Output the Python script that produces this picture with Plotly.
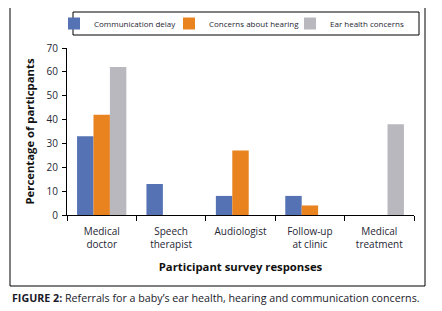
import plotly.graph_objects as go

categories = ["Medical<br>doctor", "Speech<br>therapist", "Audiologist", "Follow-up<br>at clinic", "Medical<br>treatment"]
series_names = ["Communication delay", "Concerns about hearing", "Ear health concerns"]
communication_delay = [33, 13, 8, 8, None]
concerns_hearing = [42, None, 27, 4, None]
ear_health = [62, None, None, None, 38]
colors = ["#5572B4", "#E8831F", "#B9B8BE"]
legend_widths = [70, 76, 78]

FONT = "Open Sans"
TXT = "#262633"

fig = go.Figure()
for name, vals, col, lw in zip(series_names, [communication_delay, concerns_hearing, ear_health], colors, legend_widths):
    fig.add_trace(go.Bar(x=categories, y=vals, name=name, legendwidth=lw,
                         marker=dict(color=col, line=dict(width=0))))

# the page body adds an 8px offset; size the figure to fit the window
OFF = 8
W, H = 442 - OFF, 311 - OFF
PL, PR, PT, PB = 67, 414, 48, 215  # plot area in window pixels
pw, ph = PR - PL, PB - PT

def px(x):
    return (x - PL) / pw

def py(y):
    return (PB - y) / ph

fig.update_layout(
    width=W, height=H,
    margin=dict(l=PL - OFF, r=W - (PR - OFF), t=PT - OFF, b=H - (PB - OFF), autoexpand=False),
    paper_bgcolor="white", plot_bgcolor="white",
    barmode="group", bargap=0.29, bargroupgap=0,
    font=dict(family=FONT, size=10, color=TXT),
    showlegend=True,
    legend=dict(orientation="h", x=px(54), y=py(9), xanchor="left", yanchor="top",
                font=dict(family=FONT, size=8, color=TXT), itemwidth=30,
                bgcolor="rgba(0,0,0,0)", borderwidth=0, traceorder="normal",
                itemclick=False, itemdoubleclick=False),
    xaxis=dict(showline=True, linecolor="#000", linewidth=1, ticks="outside", tickson="boundaries",
               ticklen=5, tickcolor="#000", tickfont=dict(family=FONT, size=10, color=TXT),
               ticklabelstandoff=7,
               title=dict(text="<b>Participant survey responses</b>", font=dict(family=FONT, size=11.3, color="#111"), standoff=13),
               fixedrange=True),
    yaxis=dict(range=[0, 70], dtick=10, showline=True, linecolor="#000", linewidth=1, ticks="outside",
               ticklen=4, tickcolor="#000", showgrid=False, zeroline=False,
               tickfont=dict(family=FONT, size=10, color=TXT), ticklabelstandoff=2,
               title=dict(text="<b>Percentage of particpants</b>", font=dict(family=FONT, size=11.3, color="#111"), standoff=9),
               fixedrange=True),
    shapes=[
        dict(type="rect", xref="paper", yref="paper", x0=px(10), x1=px(425), y0=py(286), y1=py(6),
             line=dict(color="#000", width=1)),
        dict(type="rect", xref="paper", yref="paper", x0=px(73), x1=px(419), y0=py(35), y1=py(12),
             line=dict(color="#000", width=1)),
    ],
    annotations=[
        dict(text="<b>FIGURE 2:</b> Referrals for a baby\u2019s ear health, hearing and communication concerns.",
             xref="paper", yref="paper", x=px(10), y=py(298), xanchor="left", yanchor="middle",
             showarrow=False, font=dict(family=FONT, size=10.7, color="#1a1a2a")),
    ],
)

fig.write_html("out.html")
